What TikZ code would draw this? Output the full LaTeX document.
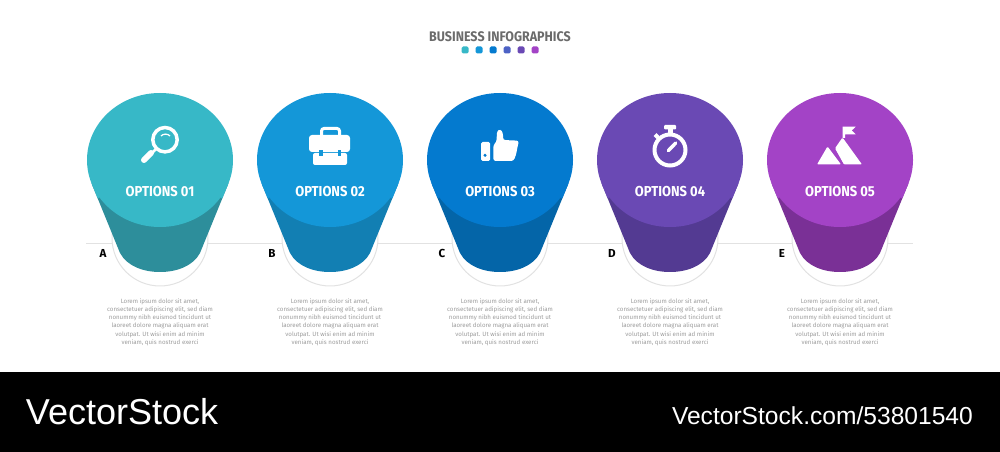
\documentclass[tikz,border=0pt]{standalone}
\usepackage{fontspec}
\setmainfont{Fira Sans}
\newfontfamily\headfont[FakeStretch=0.9]{Fira Sans}
\newfontfamily\markfont{Liberation Sans}
\definecolor{myTeal}{HTML}{37B8C7}
\definecolor{myDarkTeal}{HTML}{2D8E9B}
\definecolor{mySky}{HTML}{1497D8}
\definecolor{myDarkSky}{HTML}{127FB3}
\definecolor{myBlue}{HTML}{047ACF}
\definecolor{myDarkBlue}{HTML}{0465A8}
\definecolor{myViolet}{HTML}{6A49B4}
\definecolor{myDarkViolet}{HTML}{533A92}
\definecolor{myPurple}{HTML}{A343C6}
\definecolor{myDarkPurple}{HTML}{7A3096}
\definecolor{myIndigo}{HTML}{4D62C5}
\definecolor{myRail}{HTML}{E2E2E2}
\definecolor{myTitle}{HTML}{6B6B6B}
\definecolor{myBody}{HTML}{9C9C9C}
\begin{document}
\begin{tikzpicture}[%
    x=0.02cm,y=-0.02cm,
    every node/.style={inner sep=0pt,outer sep=0pt},
    ringnode/.style={circle,draw=myRail,fill=white,line width=0.02cm,minimum size=1.92cm},
    optlabel/.style={font=\headfont\fontsize{8.2}{9}\selectfont\bfseries,text=white},
    letterlabel/.style={font=\fontsize{6.6}{7}\selectfont\bfseries,text=black},
    bodytext/.style={font=\fontsize{3.5}{4.68}\selectfont,text=myBody,align=center},
    marktext/.style={text=white,anchor=base west},
]
\useasboundingbox (0,0) rectangle (1000,452);

% draw horizontal line
\coordinate (railStart) at (86,243.5);
\coordinate (railEnd) at (913,243.5);
\draw[myRail,line width=0.02cm] (railStart) -- (railEnd);

% draw title and dots
\node[font=\headfont\fontsize{7.9}{9}\selectfont\bfseries,text=myTitle] (title) at (500,37) {BUSINESS INFOGRAPHICS};
\foreach \x/\c in {465/myTeal,479/mySky,493/myBlue,507/myIndigo,521/myViolet,535/myPurple}{
    \fill[\c,rounded corners=0.03cm] (\x-3.5,46.5) rectangle (\x+3.5,53.5);
}

% draw the five columns
\foreach \x/\n/\main/\side in {160/1/myTeal/myDarkTeal,330/2/mySky/myDarkSky,500/3/myBlue/myDarkBlue,670/4/myViolet/myDarkViolet,840/5/myPurple/myDarkPurple}{
    \node[ringnode] (ring\n) at (\x,238) {};
    \fill[\side] (\x-68.4,183.5) -- (\x-40,253) .. controls (\x-33,266) and (\x-17,272) .. (\x,272)
        .. controls (\x+17,272) and (\x+33,266) .. (\x+40,253) -- (\x+68.4,183.5) -- cycle;
    \fill[\main] (\x,160) ellipse [x radius=73,y radius=67];
    \fill[\main] (\x-68.4,183.5) -- (\x-62.3,198.5) -- (\x,160) -- (\x+62.3,198.5) -- (\x+68.4,183.5) -- cycle;
    \node[optlabel] (opt\n) at (\x,192) {OPTIONS 0\n};
    \node[bodytext] (txt\n) at (\x,322) {Lorem ipsum dolor sit amet,\\consectetuer adipiscing elit, sed diam\\nonummy nibh euismod tincidunt ut\\laoreet dolore magna aliquam erat\\volutpat. Ut wisi enim ad minim\\veniam, quis nostrud exerci};
}

% place letters
\foreach \x/\l in {103/A,272/B,442/C,612/D,782/E}{
    \node[letterlabel] (let\l) at (\x,253.5) {\l};
}

% magnifier
\draw[white,line width=0.07cm] (165,139.7) circle (12.2);
\draw[white,line width=0.05cm] (156,149) -- (150,155);
\draw[white,line width=0.12cm,line cap=round] (151,153) -- (144,160);
\draw[white,line width=0.025cm] (161,136) .. controls (163.5,133.5) and (167.5,133.5) .. (170,136);

% briefcase
\draw[white,line width=0.06cm,rounded corners=0.05cm] (321.5,135) -- (321.5,128.5) -- (339.5,128.5) -- (339.5,135);
\fill[white,rounded corners=0.06cm] (309,135) rectangle (350,152);
\fill[white,rounded corners=0.04cm] (313,153) rectangle (347,165);
\fill[mySky] (319,150.5) rectangle (322.5,156);
\fill[mySky] (337.5,150.5) rectangle (341,156);

% thumb
\fill[white,rounded corners=0.03cm] (481,142) rectangle (490,161);
\fill[myBlue] (485,155.3) circle (1.7);
\fill[white,rounded corners=0.05cm] (493.3,145) -- (496.5,142) -- (497,131) -- (500.5,129) -- (503,133) -- (503,140) -- (519,140.7) -- (517.5,147) -- (516,155) -- (513.5,161) -- (493.3,161) -- cycle;

% stopwatch
\draw[white,line width=0.08cm] (670,150) circle (15.5);
\fill[white,rounded corners=0.02cm] (664,125) rectangle (676,129.5);
\fill[white] (667.5,129) rectangle (672.5,134);
\draw[white,line width=0.08cm] (655,134.5) -- (658,137.5);
\draw[white,line width=0.07cm,line cap=round] (668.3,150.7) -- (675.7,143);

% mountains
\fill[white] (842.5,126.7) -- (855.7,126.7) -- (851.7,130.5) -- (855.7,134.3) -- (845,134.3) -- (845,138) -- (842.5,138) -- cycle;
\fill[white,rounded corners=0.02cm] (842.5,137.5) -- (862,164.5) -- (844,164.5) -- (835,148.3) -- cycle;
\fill[white,rounded corners=0.02cm] (827.5,146.5) -- (841,164.5) -- (817,164.5) -- cycle;

% draw bottom band
\fill[black] (0,372) rectangle (1000,452);
\node[marktext,font=\markfont\fontsize{20.5}{24}\selectfont] (markLeft) at (26,424) {VectorStock};
\node[marktext,font=\markfont\fontsize{14}{16}\selectfont] (markRight) at (672,424) {VectorStock.com/53801540};

\end{tikzpicture}
\end{document}
